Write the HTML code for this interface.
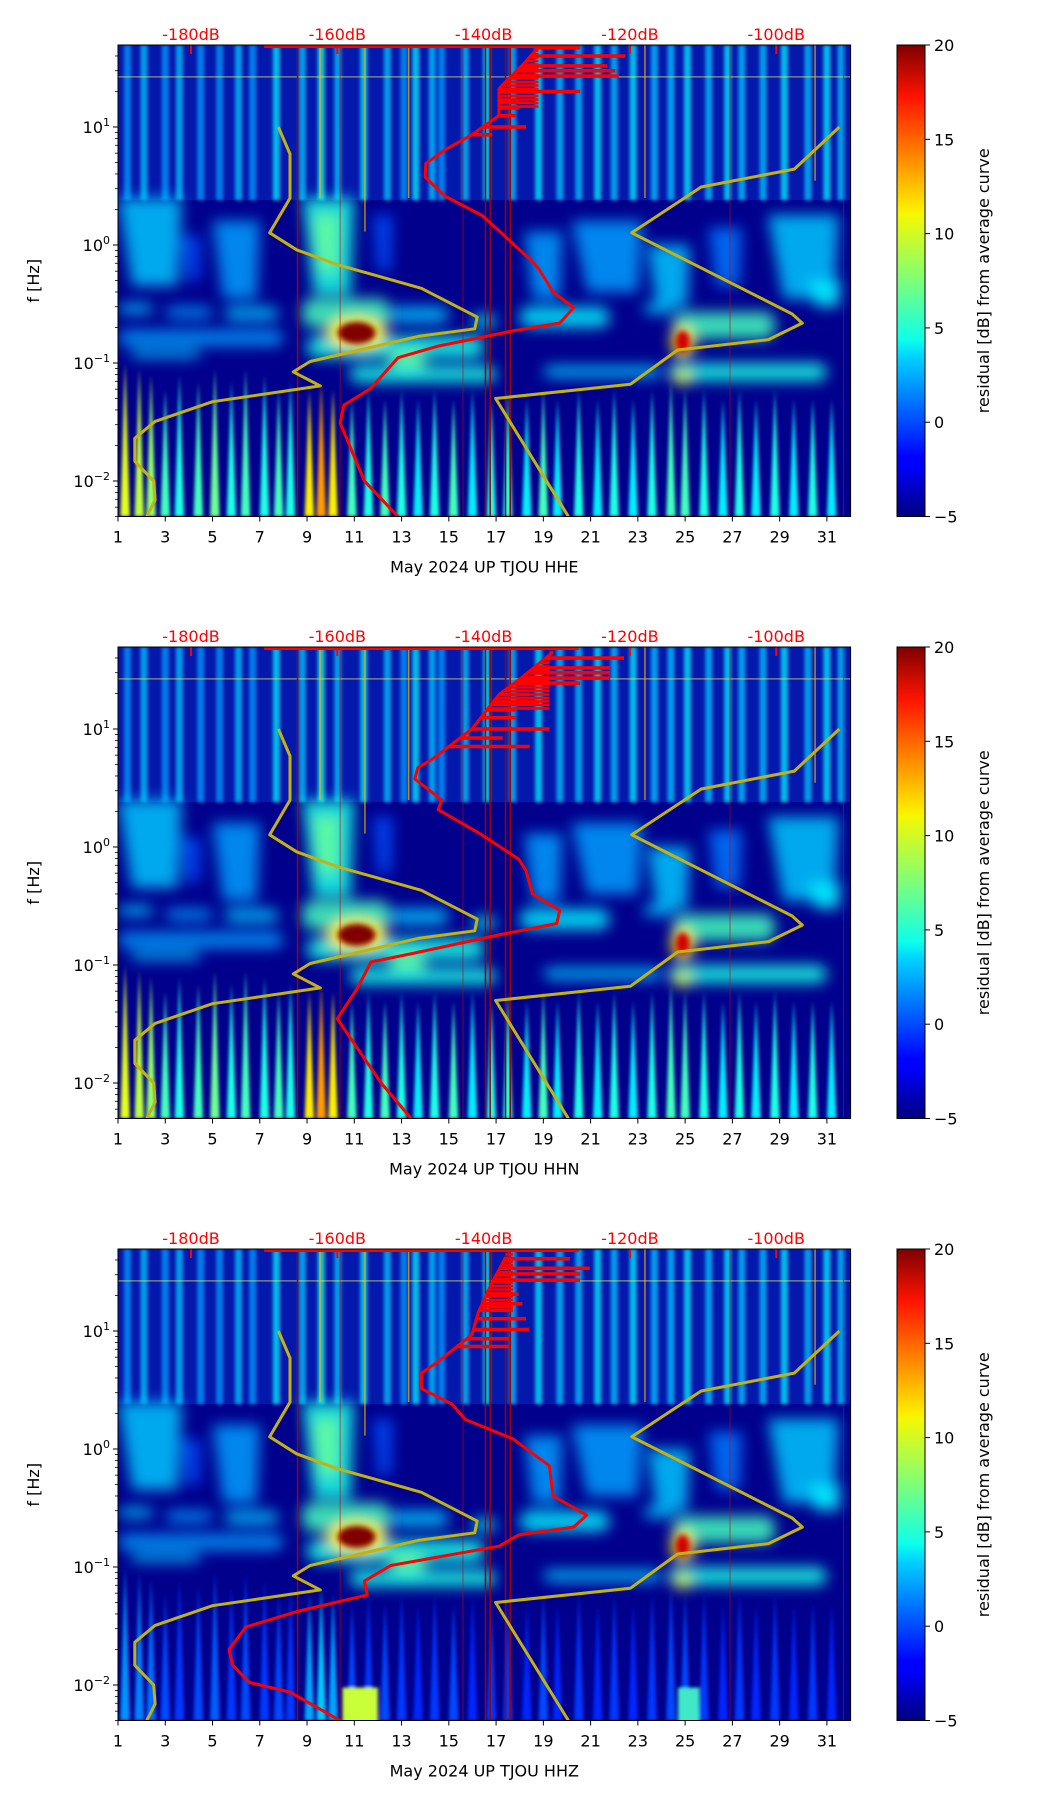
<!DOCTYPE html>
<html>
<head>
<meta charset="utf-8">
<style>
  html,body{margin:0;padding:0;background:#fff;}
  svg{display:block;}
  text{font-family:"DejaVu Sans","Liberation Sans",sans-serif;}
</style>
</head>
<body>
<svg id="chart" width="1052" height="1806" viewBox="0 0 1052 1806" xmlns="http://www.w3.org/2000/svg">
  <defs>
    <linearGradient id="jetbar" x1="0" x2="0" y1="1" y2="0">
      <stop offset="0" stop-color="#00007f"/>
      <stop offset="0.11" stop-color="#0000ff"/>
      <stop offset="0.125" stop-color="#0000ff"/>
      <stop offset="0.34" stop-color="#00d4ff"/>
      <stop offset="0.375" stop-color="#0dffea"/>
      <stop offset="0.5" stop-color="#7dff7a"/>
      <stop offset="0.64" stop-color="#f4f802"/>
      <stop offset="0.66" stop-color="#ffe600"/>
      <stop offset="0.89" stop-color="#ff1300"/>
      <stop offset="1" stop-color="#7f0000"/>
    </linearGradient>
    <filter id="blur" x="-30%" y="-30%" width="160%" height="160%"><feGaussianBlur stdDeviation="7"/></filter>
    <filter id="blur3" x="-50%" y="-50%" width="200%" height="200%"><feGaussianBlur stdDeviation="3"/></filter>
    <filter id="blur2" x="-30%" y="-30%" width="160%" height="160%"><feGaussianBlur stdDeviation="1.5"/></filter>
  </defs>
</svg>
<script>
// ---------- data ----------
const panelTops = [45, 647, 1249];
const panelNames = ["HHE", "HHN", "HHZ"];
const dayTicks = [1,3,5,7,9,11,13,15,17,19,21,23,25,27,29,31];
const dbTicks = [-180,-160,-140,-120,-100];
const cbTicks = [-5,0,5,10,15,20];
const freqDecades = [-2,-1,0,1];

// yellow reference curves (day, Hz)
const yellowADays = [7.79,8.28,8.28,7.42,8.56,10.3,13.84,16.2,16.1,13.7,9.13,8.42,9.56,5.0,2.57,1.71,1.71,2.51,2.57,2.22];
const yellowAFreq = [10,5.9,2.5,1.27,0.91,0.68,0.43,0.245,0.195,0.168,0.103,0.084,0.064,0.047,0.032,0.023,0.0147,0.01,0.0069,0.005];
const yellowBDays = [31.53,29.62,25.68,22.74,29.53,29.96,28.53,24.68,22.68,16.98,20.06];
const yellowBFreq = [10,4.4,3.1,1.27,0.26,0.218,0.158,0.129,0.066,0.05,0.005];

// red PSD curves (dB, Hz) per panel
const red1Db = [-151.7,-156.3,-159.6,-159.1,-155.4,-151.7,-146.2,-136.0,-129.6,-127.7,-130.5,-132.4,-133.3,-137.9,-140.2,-145.3,-148.0,-147.9,-145.3,-141.6,-137.9,-137.9,-134.2,-132.4];
const red1Freq = [0.005,0.01,0.031,0.044,0.061,0.111,0.139,0.187,0.218,0.295,0.4,0.62,0.72,1.32,1.78,2.6,3.77,4.9,6.4,8.6,12.5,21.2,36,48.5];
const red2Db = [-149.9,-154.0,-160,-157.3,-155.4,-149,-137.9,-130,-129.6,-133.3,-134.2,-135.2,-140.7,-146.2,-145.7,-149.4,-149,-147.1,-141.6,-137.9,-135.2,-130.5];
const red2Freq = [0.005,0.01,0.035,0.063,0.106,0.128,0.18,0.225,0.29,0.4,0.63,0.79,1.32,2.07,2.5,3.77,4.7,5.5,10,19.6,26,45];
const red3Db = [-159.6,-166.5,-172,-174.3,-174.8,-172.5,-165.5,-155.9,-156.3,-152.7,-137.9,-135.2,-127.7,-125.9,-130.5,-131,-136,-142.5,-144.3,-148.5,-148.5,-146.2,-141.6,-140.7,-138.8,-137];
const red3Freq = [0.005,0.0087,0.0105,0.0147,0.02,0.031,0.042,0.058,0.076,0.103,0.15,0.187,0.218,0.275,0.4,0.72,1.22,1.78,2.4,3.25,4.4,5.5,9.3,14.6,26,42];
// horizontal spikes on red curves (Hz, end dB)
const spike1Freq = [47,40,33,30,27,20,16.6,14.5,12.5,10,8.6];
const spike1Db = [-126.8,-120.6,-123.1,-122,-121.5,-126.8,-135.2,-135.2,-135.6,-134.2,-138.8];
const spike2Freq = [40,33,30,27,24.5,19.6,17,14.5,12.5,10,8.4,7.1];
const spike2Db = [-120.8,-122.7,-122.7,-122.7,-126.8,-133.7,-132.4,-135.6,-135.6,-131,-137.4,-133.7];
const spike3Freq = [41,34,30.5,27,20.5,17,15,12.7,10.3,8.6,7.4];
const spike3Db = [-128.2,-125.5,-126.8,-126.8,-135.2,-134.7,-136,-134.2,-133.8,-136.5,-136.5];
// dense cluster extent (dB) above ~14 Hz per panel
const clusterDb = [-132.5, -131, -136];

// spectrogram features
const highStreakDays = [1.4,2.1,3.0,3.6,4.5,5.3,6.1,6.7,7.7,8.8,9.6,10.3,11.4,12.4,13.1,13.6,14.3,14.7,15.7,16.6,17.7,18.8,19.7,20.5,21.3,22.0,22.8,23.7,24.4,25.1,26.0,26.8,27.4,28.3,29.2,30.2,31.0,31.6];
const highStreakLevel = [2,3,2,3,2,2,3,2,4,3,5,3,4,3,2,4,3,2,3,4,3,4,3,3,4,3,4,3,3,4,3,4,3,3,4,3,4,3];
const hotLineDays = [9.55,11.45,13.3,23.3,30.5];
const hotLineFreq = [2.5,1.3,2.5,2.5,3.5];
// blobs: [dayStart, dayEnd, fTop, fBottom, level dB]
const midBlobs = [[1.0,3.7,2.5,0.45,3],[3.7,4.5,1.2,0.5,0],[5.0,7.0,1.6,0.35,2],[8.8,11.0,2.5,0.38,5],[9.3,10.3,1.8,0.6,7],[11.8,12.6,1.8,0.6,0],[18.2,19.8,1.3,0.35,2],[20.2,23.2,1.6,0.4,2],[23.4,25.2,1.0,0.3,3],[26.0,27.4,1.4,0.45,1],[28.5,31.5,1.8,0.35,3],[30.2,31.6,0.5,0.3,4]];
const bandBlobs = [[1.0,2.5,0.32,0.26,3],[3.0,5.0,0.3,0.24,2],[5.5,7.8,0.3,0.23,3],[8.8,12.5,0.35,0.2,6],[12.5,15.0,0.3,0.22,3],[16.0,17.0,0.26,0.2,4],[18.0,21.8,0.3,0.2,4],[23.2,24.5,0.32,0.26,3],[24.5,28.8,0.27,0.16,6],[1.0,8.0,0.19,0.14,2],[1.5,4.5,0.13,0.11,3],[9.0,16.5,0.17,0.11,5],[12.5,14.0,0.13,0.085,7],[10.8,17.0,0.095,0.068,5],[19.0,24.0,0.095,0.075,3],[24.3,31.0,0.1,0.07,5],[24.5,25.3,0.09,0.065,10]];
// hot spots: [day, Hz, level, halfWidthDays]
const hotSpots = [[11.1,0.18,20,0.8],[24.9,0.152,18,0.3]];
// low-frequency streaks: [day, topHz, level]
const lowStreaks = [[1.3,0.1,10],[1.9,0.09,9],[2.4,0.08,8],[3.0,0.06,6],[3.6,0.08,5],[4.4,0.07,6],[5.1,0.09,7],[5.8,0.07,5],[6.4,0.09,6],[7.2,0.08,5],[7.8,0.06,6],[8.3,0.07,5],[9.1,0.06,11],[9.6,0.07,13],[10.1,0.06,11],[10.9,0.05,6],[11.6,0.06,5],[12.3,0.05,6],[13.0,0.06,5],[13.7,0.05,4],[14.4,0.06,5],[15.2,0.05,6],[16.0,0.06,4],[16.8,0.05,5],[17.5,0.06,5],[18.3,0.05,4],[19.0,0.06,6],[19.6,0.05,4],[20.5,0.06,5],[21.3,0.05,4],[22.0,0.06,5],[22.8,0.05,4],[23.6,0.06,5],[24.4,0.07,6],[25.0,0.06,6],[25.8,0.06,5],[26.6,0.05,4],[27.3,0.06,5],[28.0,0.05,4],[28.8,0.06,5],[29.6,0.05,4],[30.4,0.05,5],[31.2,0.05,4]];
const lowGain = [1, 1, 0.45];
const gapLineDays = [8.6,16.55,16.75,17.4,17.6];
const thinRedDays = [10.4,15.6,26.9,31.7];

// ---------- helpers ----------
const NS = 'http://www.w3.org/2000/svg';
const svg = document.getElementById('chart');
const L = 118, R = 850.6;
function X(d){ return L + (d - 1) * 23.63; }
function Xdb(db){ return 191 + (db + 180) * 7.315; }
function Yf(top, f){ return top + (1.695 - Math.log10(f)) * 118; }
function jet(v){
  const t = Math.max(0, Math.min(1, (v + 5) / 25));
  const c = x => Math.round(255 * Math.max(0, Math.min(1, x)));
  return 'rgb(' + c(1.5 - Math.abs(4*t - 3)) + ',' + c(1.5 - Math.abs(4*t - 2)) + ',' + c(1.5 - Math.abs(4*t - 1)) + ')';
}
function mk(tag, parent){ const e = document.createElementNS(NS, tag); parent.appendChild(e); return e; }
function interpDb(dbs, fs, f){
  const lf = Math.log10(f);
  for (let i = 0; i < fs.length - 1; i++){
    const a = Math.log10(fs[i]), b = Math.log10(fs[i+1]);
    if ((lf - a) * (lf - b) <= 0){ const t = (lf - a) / ((b - a) || 1); return dbs[i] + t * (dbs[i+1] - dbs[i]); }
  }
  return dbs[dbs.length - 1];
}
const redDbs = [red1Db, red2Db, red3Db];
const redFreqs = [red1Freq, red2Freq, red3Freq];
const spikeFreqs = [spike1Freq, spike2Freq, spike3Freq];
const spikeDbs = [spike1Db, spike2Db, spike3Db];

// ---------- draw ----------
panelTops.forEach((top, p) => {
  const H = 471.5, bottom = top + H;
  const g = mk('g', svg);
  
  

  const cp = mk('clipPath', svg.querySelector('defs'));
  cp.setAttribute('id', 'clip' + p);
  const cr = mk('rect', cp);
  cr.setAttribute('x', L); cr.setAttribute('y', top); cr.setAttribute('width', R - L); cr.setAttribute('height', H);

  const plot = mk('g', g);
  plot.setAttribute('clip-path', 'url(#clip' + p + ')');
  
  

  const bg = mk('rect', plot);
  bg.setAttribute('x', L); bg.setAttribute('y', top); bg.setAttribute('width', R - L); bg.setAttribute('height', H);
  bg.setAttribute('fill', '#00008c');
  const hb = mk('rect', plot);
  hb.setAttribute('x', L); hb.setAttribute('y', top); hb.setAttribute('width', R - L); hb.setAttribute('height', Yf(top, 2.4) - top);
  hb.setAttribute('fill', '#0418ac');

  // high-frequency streaks
  const hsG = mk('g', plot);
  hsG.setAttribute('filter', 'url(#blur2)');
  highStreakDays.forEach((d, i) => {
    const r = mk('rect', hsG);
    
    
    r.setAttribute('x', X(d) - 3.5); r.setAttribute('width', 7);
    r.setAttribute('y', top); r.setAttribute('height', Yf(top, 2.4) - top);
    r.setAttribute('fill', jet(highStreakLevel[i]));
    r.setAttribute('opacity', '0.75');
  });
  // horizontal line ~27 Hz
  const hl = mk('rect', plot);
  hl.setAttribute('x', L); hl.setAttribute('width', R - L); hl.setAttribute('y', Yf(top, 27)); hl.setAttribute('height', 1.5);
  hl.setAttribute('fill', '#e8e860'); hl.setAttribute('opacity', '0.5');

  // blobs (tapered downward for mid-band comet shapes)
  const blobG = mk('g', plot);
  blobG.setAttribute('filter', 'url(#blur)');
  midBlobs.forEach(b => {
    const x0 = X(b[0]), x1 = X(b[1]), yt = Yf(top, b[2]), yb = Yf(top, b[3]);
    const inset = (x1 - x0) * 0.22;
    const poly = mk('polygon', blobG);
    
    
    poly.setAttribute('points', x0 + ',' + yt + ' ' + x1 + ',' + yt + ' ' + (x1 - inset * 0.3) + ',' + yb + ' ' + (x0 + inset) + ',' + yb);
    poly.setAttribute('fill', jet(b[4])); poly.setAttribute('opacity', '0.85');
  });
  bandBlobs.forEach(b => {
    const r = mk('rect', blobG);
    
    
    r.setAttribute('x', X(b[0])); r.setAttribute('width', X(b[1]) - X(b[0]));
    r.setAttribute('y', Yf(top, b[2])); r.setAttribute('height', Yf(top, b[3]) - Yf(top, b[2]));
    r.setAttribute('rx', 10);
    r.setAttribute('fill', jet(b[4])); r.setAttribute('opacity', '0.85');
  });
  // low-frequency streaks
  const lowG = mk('g', plot);
  lowG.setAttribute('filter', 'url(#blur2)');
  lowStreaks.forEach(s => {
    const lvl = -5 + (s[2] + 5) * lowGain[p];
    const w = 23.63 * 0.2;
    const yt = Yf(top, s[1]);
    const poly = mk('polygon', lowG);
    
    
    poly.setAttribute('points', (X(s[0]) - w) + ',' + bottom + ' ' + X(s[0]) + ',' + yt + ' ' + (X(s[0]) + w) + ',' + bottom);
    poly.setAttribute('fill', jet(lvl));
  });
  if (p === 2){
    [[10.5,12.0,'#c8ff38'],[24.7,25.6,'#40e8c8']].forEach(b => {
      const r = mk('rect', lowG);
      
      
      r.setAttribute('x', X(b[0])); r.setAttribute('width', X(b[1]) - X(b[0]));
      r.setAttribute('y', Yf(top, 0.0095)); r.setAttribute('height', bottom - Yf(top, 0.0095) + 4);
      r.setAttribute('fill', b[2]);
    });
  }
  // hot spots
  hotSpots.forEach(h => {
    const halo = mk('ellipse', blobG);
    halo.setAttribute('cx', X(h[0])); halo.setAttribute('cy', Yf(top, h[1]));
    halo.setAttribute('rx', h[3] * 23.63 * 1.6); halo.setAttribute('ry', 16);
    halo.setAttribute('fill', jet(11));
    const e = mk('ellipse', plot);
    
    
    e.setAttribute('cx', X(h[0])); e.setAttribute('cy', Yf(top, h[1]));
    e.setAttribute('rx', h[3] * 23.63); e.setAttribute('ry', 11);
    e.setAttribute('fill', jet(h[2]));
    e.setAttribute('filter', 'url(#blur3)');
  });
  // hot thin lines
  hotLineDays.forEach((d, i) => {
    const l = mk('line', plot);
    l.setAttribute('x1', X(d)); l.setAttribute('x2', X(d)); l.setAttribute('y1', top); l.setAttribute('y2', Yf(top, hotLineFreq[i]));
    l.setAttribute('stroke', '#ffb000'); l.setAttribute('stroke-width', 1.5); l.setAttribute('opacity', '0.7');
  });
  gapLineDays.forEach(d => {
    const l = mk('line', plot);
    
    
    l.setAttribute('x1', X(d)); l.setAttribute('x2', X(d)); l.setAttribute('y1', top); l.setAttribute('y2', bottom);
    l.setAttribute('stroke', '#a00000'); l.setAttribute('stroke-width', 1.5);
  });
  thinRedDays.forEach(d => {
    const l = mk('line', plot);
    l.setAttribute('x1', X(d)); l.setAttribute('x2', X(d)); l.setAttribute('y1', top); l.setAttribute('y2', bottom);
    l.setAttribute('stroke', '#d00000'); l.setAttribute('stroke-width', 1); l.setAttribute('opacity', '0.6');
  });

  // yellow curves
  [[yellowADays, yellowAFreq], [yellowBDays, yellowBFreq]].forEach((c, k) => {
    const pl = mk('polyline', plot);
    
    
    pl.setAttribute('points', c[0].map((d, i) => X(d).toFixed(1) + ',' + Yf(top, c[1][i]).toFixed(1)).join(' '));
    pl.setAttribute('fill', 'none'); pl.setAttribute('stroke', '#c4b214'); pl.setAttribute('stroke-width', 3);
    pl.setAttribute('stroke-linejoin', 'round');
  });

  // red curve + cluster + spikes
  const dbs = redDbs[p], fs = redFreqs[p];
  for (let y = top + 2; y < Yf(top, 14); y += 3.5){
    const f = Math.pow(10, 1.695 - (y - top) / 118);
    const l = mk('line', plot);
    
    
    l.setAttribute('x1', Xdb(interpDb(dbs, fs, f))); l.setAttribute('x2', Xdb(clusterDb[p]));
    l.setAttribute('y1', y); l.setAttribute('y2', y);
    l.setAttribute('stroke', '#ff0000'); l.setAttribute('stroke-width', 2.5);
  }
  spikeFreqs[p].forEach((f, i) => {
    const l = mk('line', plot);
    
    
    const y = Yf(top, f);
    l.setAttribute('x1', Xdb(interpDb(dbs, fs, f))); l.setAttribute('x2', Xdb(spikeDbs[p][i]));
    l.setAttribute('y1', y); l.setAttribute('y2', y);
    l.setAttribute('stroke', '#ff0000'); l.setAttribute('stroke-width', 3.5);
  });
  const rl = mk('polyline', plot);
  
  
  rl.setAttribute('points', dbs.map((db, i) => Xdb(db).toFixed(1) + ',' + Yf(top, fs[i]).toFixed(1)).join(' '));
  rl.setAttribute('fill', 'none'); rl.setAttribute('stroke', '#ff0000'); rl.setAttribute('stroke-width', 3);
  rl.setAttribute('stroke-linejoin', 'round');
  const tl = mk('line', plot);
  tl.setAttribute('x1', Xdb(-170)); tl.setAttribute('x2', Xdb(-127)); tl.setAttribute('y1', top + 1.5); tl.setAttribute('y2', top + 1.5);
  tl.setAttribute('stroke', '#ff0000'); tl.setAttribute('stroke-width', 3);
  dbTicks.forEach(db => {
    if (db === -140) return;
    const t = mk('line', plot);
    t.setAttribute('x1', Xdb(db)); t.setAttribute('x2', Xdb(db)); t.setAttribute('y1', top); t.setAttribute('y2', top + 9);
    t.setAttribute('stroke', '#ff0000'); t.setAttribute('stroke-width', 2);
  });

  // frame
  const fr = mk('rect', g);
  
  
  fr.setAttribute('x', L); fr.setAttribute('y', top); fr.setAttribute('width', R - L); fr.setAttribute('height', H);
  fr.setAttribute('fill', 'none'); fr.setAttribute('stroke', '#000'); fr.setAttribute('stroke-width', 1);

  // x ticks
  dayTicks.forEach(d => {
    const t = mk('line', g);
    t.setAttribute('x1', X(d)); t.setAttribute('x2', X(d)); t.setAttribute('y1', bottom); t.setAttribute('y2', bottom + 5);
    t.setAttribute('stroke', '#000');
    const tx = mk('text', g);
    
    
    tx.setAttribute('x', X(d)); tx.setAttribute('y', bottom + 26); tx.setAttribute('text-anchor', 'middle');
    tx.setAttribute('font-size', '16');
    tx.textContent = d;
  });
  const xl = mk('text', g);
  
  
  xl.setAttribute('x', (L + R) / 2); xl.setAttribute('y', bottom + 56); xl.setAttribute('text-anchor', 'middle');
  xl.setAttribute('font-size', '16');
  xl.textContent = 'May 2024 UP TJOU  ' + panelNames[p];

  // top dB labels
  dbTicks.forEach(db => {
    const tx = mk('text', g);
    
    
    tx.setAttribute('x', Xdb(db)); tx.setAttribute('y', top - 5); tx.setAttribute('text-anchor', 'middle');
    tx.setAttribute('font-size', '16'); tx.setAttribute('fill', '#ff0000');
    tx.textContent = db + 'dB';
  });

  // y ticks
  freqDecades.forEach(k => {
    const y = Yf(top, Math.pow(10, k));
    const t = mk('line', g);
    t.setAttribute('x1', L - 5); t.setAttribute('x2', L); t.setAttribute('y1', y); t.setAttribute('y2', y); t.setAttribute('stroke', '#000');
    const tx = mk('text', g);
    
    
    tx.setAttribute('x', L - 8); tx.setAttribute('y', y + 6); tx.setAttribute('text-anchor', 'end'); tx.setAttribute('font-size', '16');
    tx.textContent = '10';
    const sup = mk('tspan', tx);
    sup.setAttribute('dy', '-7'); sup.setAttribute('font-size', '11');
    sup.textContent = k < 0 ? '\u2212' + (-k) : String(k);
  });
  for (let k = -3; k <= 1; k++){
    for (let m = 2; m <= 9; m++){
      const f = m * Math.pow(10, k);
      if (f < 0.005 || f > 49.5) continue;
      const y = Yf(top, f);
      const t = mk('line', g);
      t.setAttribute('x1', L - 3); t.setAttribute('x2', L); t.setAttribute('y1', y); t.setAttribute('y2', y);
      t.setAttribute('stroke', '#000'); t.setAttribute('stroke-width', 0.8);
    }
  }
  const yl = mk('text', g);
  
  
  yl.setAttribute('transform', 'translate(39,' + (top + H / 2) + ') rotate(-90)');
  yl.setAttribute('text-anchor', 'middle'); yl.setAttribute('font-size', '16');
  yl.textContent = 'f [Hz]';

  // colorbar
  const cbx = 897, cbw = 28;
  const cb = mk('rect', g);
  
  
  cb.setAttribute('x', cbx); cb.setAttribute('y', top); cb.setAttribute('width', cbw); cb.setAttribute('height', H);
  cb.setAttribute('fill', 'url(#jetbar)'); cb.setAttribute('stroke', '#000'); cb.setAttribute('stroke-width', 1);
  cbTicks.forEach(v => {
    const y = bottom - (v + 5) / 25 * H;
    const t = mk('line', g);
    t.setAttribute('x1', cbx + cbw); t.setAttribute('x2', cbx + cbw + 5); t.setAttribute('y1', y); t.setAttribute('y2', y); t.setAttribute('stroke', '#000');
    const tx = mk('text', g);
    
    
    tx.setAttribute('x', cbx + cbw + 9); tx.setAttribute('y', y + 6); tx.setAttribute('font-size', '16');
    tx.textContent = v < 0 ? '\u2212' + (-v) : String(v);
  });
  const cl2 = mk('text', g);
  
  
  cl2.setAttribute('transform', 'translate(989,' + (top + H / 2) + ') rotate(-90)');
  cl2.setAttribute('text-anchor', 'middle'); cl2.setAttribute('font-size', '16');
  cl2.textContent = 'residual [dB] from average curve';
});
</script>
</body>
</html>
